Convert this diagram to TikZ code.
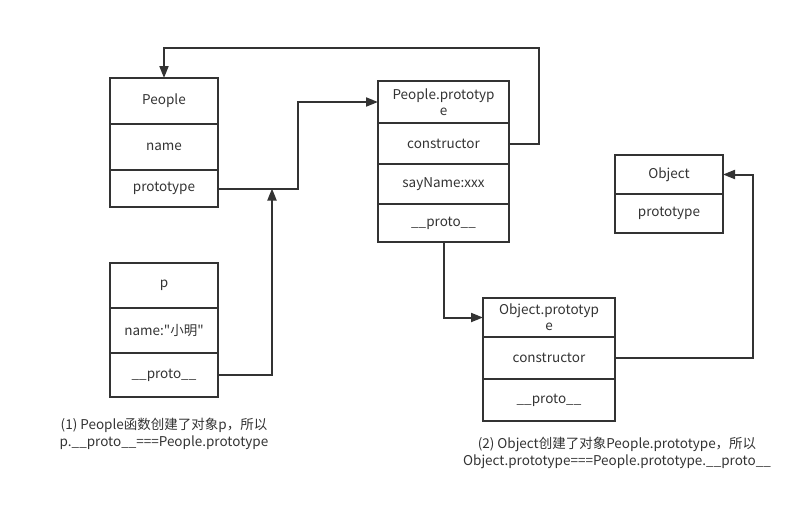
\documentclass[tikz,border=0pt]{standalone}
\usepackage{fontspec}
\setmainfont{Noto Sans CJK SC}[Ligatures=TeXOff]
\usetikzlibrary{arrows.meta}
\definecolor{ink}{HTML}{333333}
\tikzset{
  cellbox/.style={draw=ink, line width=2pt, inner sep=0pt, outer sep=0pt, align=center, text=ink, font=\fontsize{13.5}{16}\selectfont},
  arr/.style={draw=ink, line width=2pt, -{Triangle[length=12pt,width=9pt]}},
  caption/.style={align=center, text=ink, font=\fontsize{13.5}{17}\selectfont}
}
\newcommand{\mycell}[6]{%
  \node[cellbox, minimum width={#4-#2}, minimum height={#5-#3}] (#1) at ({(#2+#4)/2},{(#3+#5)/2}) {#6};}
\begin{document}
\begin{tikzpicture}[x=1pt,y=-1pt]
\useasboundingbox (0,0) rectangle (812,509);
% People
\mycell{pA}{110}{78}{218}{124}{People}
\mycell{pB}{110}{124}{218}{170}{name}
\mycell{pC}{110}{170}{218}{207}{prototype}
% People.prototype
\mycell{ppA}{378}{81}{509}{123}{People.prototyp\\e}
\mycell{ppB}{378}{123}{509}{164}{constructor}
\mycell{ppC}{378}{164}{509}{204}{sayName:xxx}
\mycell{ppD}{378}{204}{509}{242}{\_\_proto\_\_}
% p
\mycell{qA}{110}{263}{218}{308}{p}
\mycell{qB}{110}{308}{218}{353}{name:"小明"}
\mycell{qC}{110}{353}{218}{397}{\_\_proto\_\_}
% Object.prototype
\mycell{opA}{483}{298}{615}{337}{Object.prototyp\\e}
\mycell{opB}{483}{337}{615}{379}{constructor}
\mycell{opC}{483}{379}{615}{421}{\_\_proto\_\_}
% Object
\mycell{oA}{615}{155}{723}{194}{Object}
\mycell{oB}{615}{194}{723}{233}{prototype}
% connectors
\coordinate (top) at (539,48);
\draw[arr] (pC.east) -- ++(80,0) |- (ppA.west);
\draw[arr] (qC.east) -| ([xshift=54pt]pC.east);
\draw[arr] (ppB.east) -| (top) -| (pA.north);
\draw[arr] (ppD.south) |- (opA.west);
\draw[arr] (opB.east) -- ++(138,0) |- (oA.east);
% captions
\node[caption] (c1) at (164,434) {(1) People函数创建了对象p，所以\\p.\_\_proto\_\_===People.prototype};
\node[caption] (c2) at (617,453) {(2) Object创建了对象People.prototype，所以\\Object.prototype===People.prototype.\_\_proto\_\_};
\end{tikzpicture}
\end{document}
